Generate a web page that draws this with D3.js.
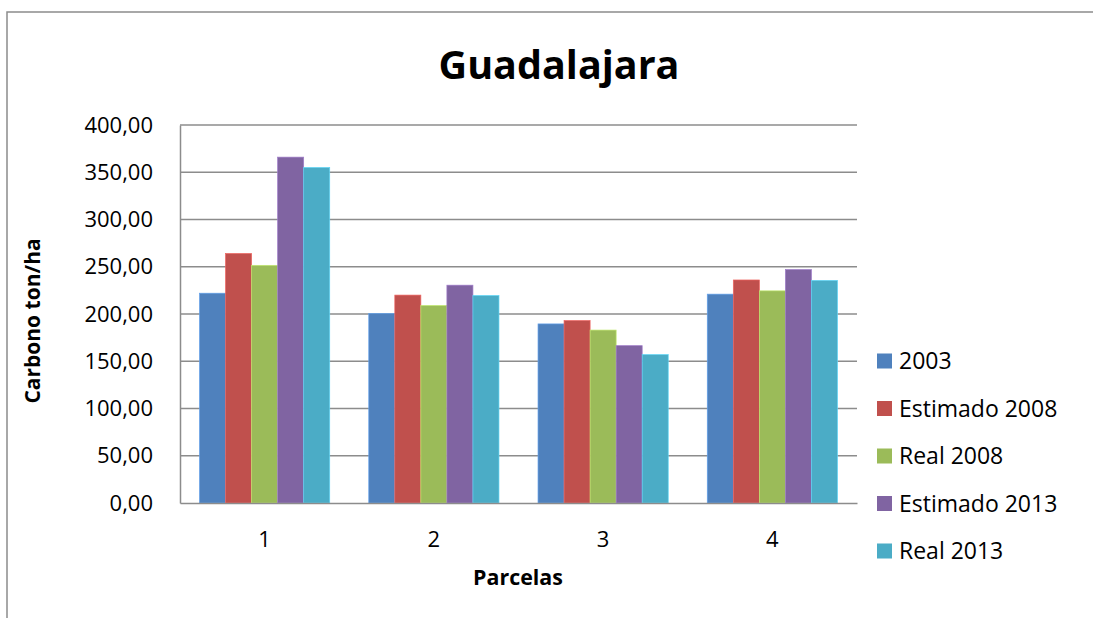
<!DOCTYPE html>
<html lang="es">
<head>
<meta charset="utf-8">
<title>Guadalajara</title>
<script src="https://cdn.jsdelivr.net/npm/d3@7"></script>
<style>
  body { margin: 0; background: #fff; }
  text { font-family: "Open Sans", "Noto Sans", sans-serif; fill: #000; }
</style>
</head>
<body>
<script>
// data
var parcelas = ["1", "2", "3", "4"];
var series = ["2003", "Estimado 2008", "Real 2008", "Estimado 2013", "Real 2013"];
var colors = ["#4f81bd", "#c0504d", "#9bbb59", "#8064a2", "#4bacc6"];
var v2003 = [222, 200.5, 189.5, 221];
var vEst2008 = [264, 220, 193, 236];
var vReal2008 = [251.5, 209, 183, 224.5];
var vEst2013 = [366, 230.5, 166.5, 247];
var vReal2013 = [355, 219.5, 157, 235.5];
var yTicks = [0, 50, 100, 150, 200, 250, 300, 350, 400];

var values = [v2003, vEst2008, vReal2008, vEst2013, vReal2013];

var w = 1093, h = 618;
var svg = d3.select("body").append("svg")
    .attr("width", w)
    .attr("height", h);

// outer chart frame
svg.append("rect")
    .attr("x", 7).attr("y", 12)
    .attr("width", 1100).attr("height", 620)
    .attr("fill", "none")
    .attr("stroke", "#8c8c8c")
    .attr("stroke-width", 1.5);

var plot = {left: 180, right: 857, top: 125, bottom: 503};

var x = d3.scaleBand()
    .domain(parcelas)
    .range([plot.left, plot.right]);

var y = d3.scaleLinear()
    .domain([0, 400])
    .range([plot.bottom, plot.top]);

// bar inside a category: gap width 150%
var inner = d3.scaleBand()
    .domain(series)
    .range([0, x.bandwidth()])
    .paddingOuter(0.75);

// gridlines
svg.append("g").selectAll("line")
    .data(yTicks.filter(function(d) { return d > 0; }))
    .join("line")
    .attr("x1", plot.left).attr("x2", plot.right)
    .attr("y1", function(d) { return y(d); })
    .attr("y2", function(d) { return y(d); })
    .attr("stroke", "#8c8c8c")
    .attr("stroke-width", 1.5);

// bars
series.forEach(function(s, si) {
  svg.append("g").selectAll("rect")
      .data(values[si])
      .join("rect")
      .attr("x", function(d, i) { return x(parcelas[i]) + inner(s); })
      .attr("y", function(d) { return y(d); })
      .attr("width", inner.bandwidth())
      .attr("height", function(d) { return y(0) - y(d); })
      .attr("fill", colors[si])
      .attr("stroke", d3.color(colors[si]).brighter(0.6))
      .attr("stroke-width", 0.7);
});

// y axis
var yAxis = svg.append("g")
    .attr("transform", "translate(" + plot.left + ",0)")
    .call(d3.axisLeft(y).tickValues(yTicks).tickSize(0).tickPadding(27)
      .tickFormat(function(d) { return d3.format(".2f")(d).replace(".", ","); }));
yAxis.select(".domain").attr("stroke", "#8c8c8c").attr("stroke-width", 1.5);
yAxis.selectAll("text").style("font-size", "22px").attr("font-family", null);

// x axis
var xAxis = svg.append("g")
    .attr("transform", "translate(0," + plot.bottom + ")")
    .call(d3.axisBottom(x).tickSize(0).tickPadding(28));
xAxis.select(".domain").attr("stroke", "#8c8c8c").attr("stroke-width", 1.5);
xAxis.selectAll("text").style("font-size", "22px").attr("font-family", null);

// title
svg.append("text")
    .attr("x", 559).attr("y", 79)
    .attr("text-anchor", "middle")
    .style("font-size", "39.5px")
    .style("font-weight", "bold")
    .text("Guadalajara");

// axis titles
svg.append("text")
    .attr("x", 518).attr("y", 585)
    .attr("text-anchor", "middle")
    .style("font-size", "21.4px")
    .style("font-weight", "bold")
    .text("Parcelas");

svg.append("text")
    .attr("transform", "translate(40,321) rotate(-90)")
    .attr("text-anchor", "middle")
    .style("font-size", "21px")
    .style("font-weight", "bold")
    .text("Carbono ton/ha");

// legend
var legend = svg.append("g").selectAll("g")
    .data(series)
    .join("g")
    .attr("transform", function(d, i) { return "translate(877," + (361 + i * 47.5) + ")"; });

legend.append("rect")
    .attr("x", 0).attr("y", -7.5)
    .attr("width", 15).attr("height", 15)
    .attr("fill", function(d, i) { return colors[i]; });

legend.append("text")
    .attr("x", 22).attr("dy", "0.35em")
    .style("font-size", "23px")
    .text(function(d) { return d; });
</script>
</body>
</html>
